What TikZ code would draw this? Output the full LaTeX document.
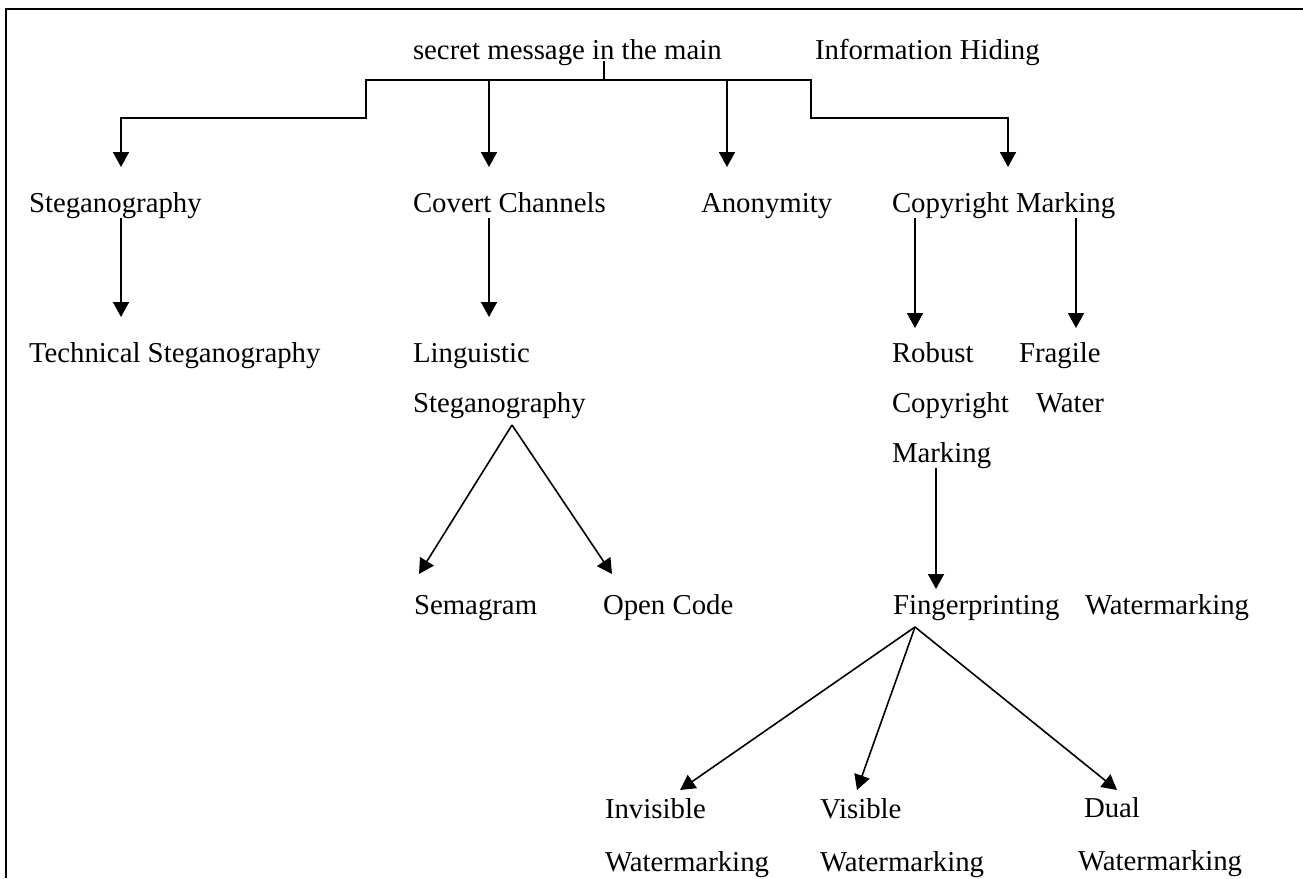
\documentclass[tikz,border=0pt]{standalone}
\usepackage{fontspec}
\setmainfont{Liberation Serif}
\usetikzlibrary{arrows.meta}

\begin{document}
\begin{tikzpicture}[x=1pt,y=-1pt,
  label/.style={anchor=base west,inner sep=0pt,outer sep=0pt,
    font=\fontsize{28.8}{34}\selectfont},
  link/.style={line width=1.8pt},
  arr/.style={line width=1.8pt,-{Triangle[width=16pt,length=15pt]}},
  thinarr/.style={line width=1.6pt,-{Triangle[width=16pt,length=15pt]}},
  frame/.style={line width=2.4pt}]

\useasboundingbox (0,0) rectangle (1303,878);

% outer frame (open at right and bottom)
\draw[frame] (6,878) -- (6,9) -- (1303,9);

% top line
\node[label] (root) at (413,59) {secret message in the main};
\node[label] (ih)   at (815,59) {Information Hiding};

% first level
\node[label] (steg)   at (29,212)  {Steganography};
\node[label] (covert) at (413,212) {Covert Channels};
\node[label] (anon)   at (701,212) {Anonymity};
\node[label] (copy)   at (892,212) {Copyright Marking};

% second level
\node[label] (tech)     at (29,362)   {Technical Steganography};
\node[label] (ling)     at (413,362)  {Linguistic};
\node[label] (ling2)    at (413,412)  {Steganography};
\node[label] (robust)   at (892,362)  {Robust};
\node[label] (robust2)  at (892,412)  {Copyright};
\node[label] (robust3)  at (892,462)  {Marking};
\node[label] (fragile)  at (1019,362) {Fragile};
\node[label] (fragile2) at (1036,412) {Water};

% third level
\node[label] (sema)   at (414,614)  {Semagram};
\node[label] (open)   at (603,614)  {Open Code};
\node[label] (finger) at (893,614)  {Fingerprinting};
\node[label] (wm)     at (1085,614) {Watermarking};

% fourth level
\node[label] (invis)  at (605,818)  {Invisible};
\node[label] (invis2) at (605,871)  {Watermarking};
\node[label] (vis)    at (820,818)  {Visible};
\node[label] (vis2)   at (820,871)  {Watermarking};
\node[label] (dual)   at (1084,817) {Dual};
\node[label] (dual2)  at (1078,870) {Watermarking};

% bracket under the top line
\coordinate (hub) at ([xshift=191pt,yshift=-21pt]root.base west);
\draw[link] ([xshift=191pt,yshift=-2pt]root.base west) -- (hub);
\draw[arr] (hub) -| ++(-238,38) -| ([xshift=92pt,yshift=45pt]steg.base west);
\draw[arr] ([xshift=76pt]covert.base west |- hub) -- ([xshift=76pt,yshift=45pt]covert.base west);
\draw[arr] ([xshift=26pt]anon.base west |- hub) -- ([xshift=26pt,yshift=45pt]anon.base west);
\draw[arr] (hub) -| ++(207,38) -| ([xshift=116pt,yshift=45pt]copy.base west);

% vertical links
\draw[arr] ([xshift=92pt,yshift=-6pt]steg.base west) -- ([xshift=92pt,yshift=45pt]tech.base west);
\draw[arr] ([xshift=76pt,yshift=-6pt]covert.base west) -- ([xshift=76pt,yshift=45pt]ling.base west);
\draw[arr] ([xshift=23pt,yshift=-6pt]copy.base west) -- ([xshift=23pt,yshift=34pt]robust.base west);
\draw[arr] ([xshift=184pt,yshift=-6pt]copy.base west) -- ([xshift=57pt,yshift=34pt]fragile.base west);
\draw[arr] ([xshift=44pt,yshift=-6pt]robust3.base west) -- ([xshift=43pt,yshift=25pt]finger.base west);

% diagonal links
\draw[thinarr] ([xshift=99pt,yshift=-13pt]ling2.base west) -- ([xshift=5pt,yshift=40pt]sema.base west);
\draw[thinarr] ([xshift=99pt,yshift=-13pt]ling2.base west) -- ([xshift=9pt,yshift=40pt]open.base west);
\draw[thinarr] ([xshift=22pt,yshift=-13pt]finger.base west) -- ([xshift=75pt,yshift=28pt]invis.base west);
\draw[thinarr] ([xshift=22pt,yshift=-13pt]finger.base west) -- ([xshift=37pt,yshift=28pt]vis.base west);
\draw[thinarr] ([xshift=22pt,yshift=-13pt]finger.base west) -- ([xshift=33pt,yshift=27pt]dual.base west);
\end{tikzpicture}
\end{document}
